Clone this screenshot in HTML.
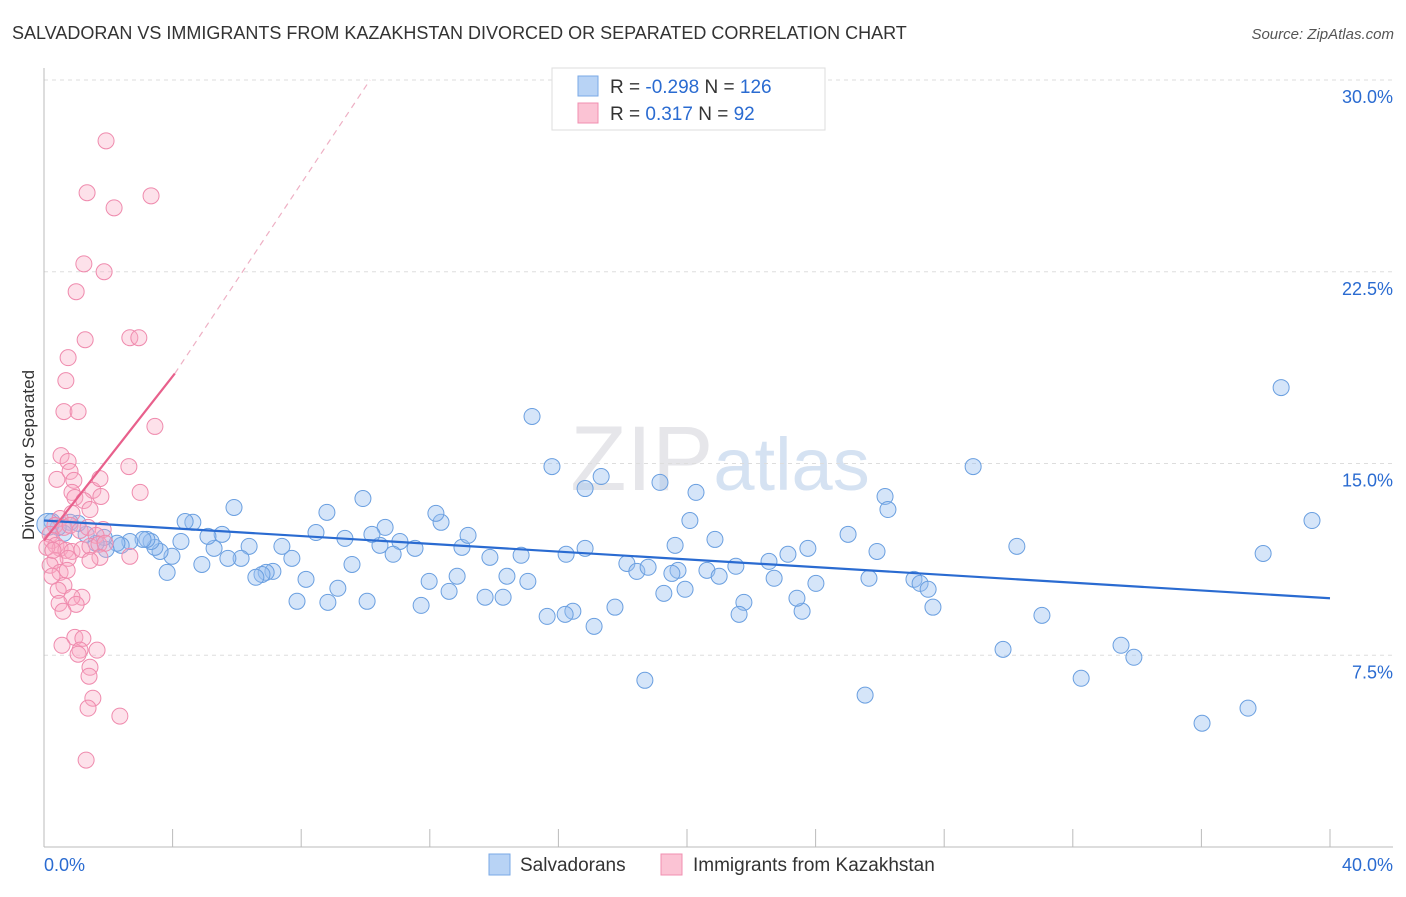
<!DOCTYPE html>
<html><head><meta charset="utf-8"><style>
body{margin:0;background:#fff;font-family:"Liberation Sans",sans-serif;}
svg text{font-family:"Liberation Sans",sans-serif;}
</style></head><body>
<svg id="chart" width="1406" height="892" xmlns="http://www.w3.org/2000/svg">
<text x="12" y="39" font-size="18" fill="#333">SALVADORAN VS IMMIGRANTS FROM KAZAKHSTAN DIVORCED OR SEPARATED CORRELATION CHART</text>
<text x="1394" y="39" font-size="15" fill="#555" text-anchor="end" font-style="italic">Source: ZipAtlas.com</text>
<text x="720" y="490" font-size="92" fill="#e6e6ea" text-anchor="middle" font-family="Liberation Serif">ZIP<tspan fill="#d5e2f2" font-family="Liberation Sans" font-size="74">atlas</tspan></text>
<g id="grid"></g>
<g id="axes"></g>
<g id="pts"></g>
<g id="trend"></g>
<text transform="translate(34,455) rotate(-90)" font-size="17" fill="#333" text-anchor="middle">Divorced or Separated</text>
<g>
<rect x="552" y="68" width="273" height="62" fill="#fff" stroke="#ddd"/>
<rect x="578" y="76" width="20" height="20" fill="#b8d3f5" stroke="#7aa8e6"/>
<rect x="578" y="103" width="20" height="20" fill="#fbc3d4" stroke="#f08fb0"/>
<text x="610" y="93" font-size="19" fill="#333">R = <tspan fill="#2a6bd1">-0.298</tspan>   N = <tspan fill="#2a6bd1">126</tspan></text>
<text x="610" y="120" font-size="19" fill="#333">R =  <tspan fill="#2a6bd1"> 0.317</tspan>   N =  <tspan fill="#2a6bd1"> 92</tspan></text>
</g>
<g>
<rect x="489" y="854" width="21" height="21" fill="#b8d3f5" stroke="#7aa8e6"/>
<text x="520" y="871" font-size="19" fill="#333">Salvadorans</text>
<rect x="661" y="854" width="21" height="21" fill="#fbc3d4" stroke="#f08fb0"/>
<text x="693" y="871" font-size="19" fill="#333">Immigrants from Kazakhstan</text>
</g>
</svg>
<script>
const xTicks=[0,4,8,12,16,20,24,28,32,36,40];
const yTicks=[7.5,15,22.5,30];
const yTickLabels=["7.5%","15.0%","22.5%","30.0%"];
const xEndLabels=["0.0%","40.0%"];
const blueX=[15.18,15.80,16.83,17.33,19.16,20.28,26.16,26.25,28.90,38.48,39.44,37.92,30.26,25.01,25.91,23.76,23.14,22.55,22.71,24.01,25.66,27.06,27.25,27.50,27.65,20.87,20.09,19.63,19.72,19.53,20.62,21.00,21.52,21.77,21.62,19.28,19.94,18.13,18.44,18.79,17.76,17.11,16.45,16.21,15.65,16.83,16.24,14.84,15.05,14.40,14.28,13.72,13.87,13.00,13.19,12.35,12.19,12.85,12.60,11.98,11.73,11.54,11.07,10.86,10.61,10.45,10.20,9.92,9.36,9.58,9.14,8.83,10.05,8.46,8.80,8.15,7.87,7.71,7.40,7.12,6.91,6.78,6.59,6.38,6.13,5.91,5.72,5.54,5.29,5.10,4.91,4.63,4.39,4.26,3.98,3.83,3.61,3.45,3.33,3.20,3.08,2.67,2.40,2.27,1.93,1.87,1.62,1.31,1.06,0.81,0.62,0.44,0.25,0.12,25.54,18.69,29.83,32.26,33.50,33.90,36.02,37.45,31.04,23.58,23.42];
const blueY=[16.84,14.88,14.02,14.49,14.26,13.87,13.71,13.20,14.88,17.97,12.77,11.48,11.76,12.23,11.56,11.68,11.45,11.17,10.51,10.31,10.51,10.47,10.31,10.08,9.38,12.03,12.77,11.80,10.82,10.70,10.82,10.59,10.98,9.57,9.10,9.92,10.08,11.09,10.78,10.94,9.38,8.63,9.22,9.10,9.02,11.68,11.45,11.41,10.39,10.59,9.77,9.77,11.33,11.72,12.19,12.70,13.05,10.59,10.00,10.39,9.45,11.68,11.95,11.45,12.50,11.80,12.23,13.63,12.07,11.05,10.12,9.57,9.61,12.30,13.09,10.47,9.61,11.29,11.76,10.78,10.74,10.66,10.55,11.76,11.29,13.28,11.29,12.23,11.68,12.15,11.05,12.70,12.73,11.95,11.37,10.74,11.56,11.72,11.95,12.03,12.03,11.95,11.80,11.88,11.64,12.11,11.88,12.23,12.66,12.70,12.27,12.50,12.73,12.62,5.94,6.52,7.73,6.60,7.89,7.42,4.84,5.43,9.06,9.22,9.73];
const pinkX=[1.93,1.34,2.18,3.33,1.24,1.87,1.00,1.28,2.67,2.95,0.75,0.68,0.62,1.06,3.45,0.53,0.75,0.40,0.81,0.93,0.87,0.96,1.52,1.74,2.64,2.99,1.77,1.24,1.43,0.87,0.50,0.34,0.62,0.81,1.12,1.37,1.84,1.62,0.19,0.25,0.37,0.50,0.68,0.87,1.18,1.43,1.71,1.90,2.67,1.74,1.43,0.75,0.34,0.19,0.50,0.62,0.44,0.72,1.18,0.87,0.47,1.00,0.59,0.96,1.21,1.12,1.06,1.65,1.43,1.40,1.52,1.37,2.36,1.31,0.25,0.09,0.28,0.56];
const pinkY=[27.62,25.59,25.00,25.47,22.81,22.50,21.72,19.84,19.92,19.92,19.14,18.24,17.03,17.03,16.45,15.31,15.08,14.38,14.69,14.34,13.87,13.67,13.95,14.41,14.88,13.87,13.71,13.55,13.20,13.05,12.85,12.58,12.50,12.58,12.38,12.50,12.42,12.19,12.23,11.99,11.80,11.68,11.60,11.56,11.64,11.76,11.84,11.88,11.37,11.33,11.21,11.29,11.21,11.02,10.74,10.23,10.04,10.82,9.77,9.77,9.53,9.49,9.22,8.20,8.16,7.70,7.54,7.70,7.03,6.68,5.82,5.43,5.12,3.40,10.59,11.72,11.60,7.89];
const blueTrend=[[0,12.77],[40,9.73]];
const pinkTrend=[[0,11.99],[4.07,18.52]];
const pinkTrendExt=[[4.07,18.52],[10.14,30]];
const NS="http://www.w3.org/2000/svg";
const X0=44,X1=1330,Y0=847,Y30=80;
const sx=v=>X0+(X1-X0)*v/40;
const sy=v=>Y0-(Y0-Y30)*v/30;
function mk(tag,attrs,parent){const e=document.createElementNS(NS,tag);for(const k in attrs)e.setAttribute(k,attrs[k]);parent.appendChild(e);return e;}
const grid=document.getElementById('grid'),axes=document.getElementById('axes'),pts=document.getElementById('pts'),trend=document.getElementById('trend');
yTicks.forEach((t,i)=>{
 const l=mk('line',{x1:X0,x2:1393,y1:sy(t),y2:sy(t),stroke:'#ddd','stroke-dasharray':'4,4'},grid);
 
 
 const tx=mk('text',{x:1393,y:sy(t)+23,'font-size':18,fill:'#2a6bd1','text-anchor':'end'},axes);
 tx.textContent=yTickLabels[i];
 
 
});
const ya=mk('line',{x1:X0,x2:X0,y1:68,y2:Y0,stroke:'#bbb'},axes);


const xa=mk('line',{x1:X0,x2:1393,y1:Y0,y2:Y0,stroke:'#bbb'},axes);


xTicks.forEach(t=>{
 const l=mk('line',{x1:sx(t),x2:sx(t),y1:829,y2:Y0,stroke:'#bbb'},axes);
 
 
});
[[0,'start',44],[40,'end',1393]].forEach((a,i)=>{
 const tx=mk('text',{x:a[2],y:871,'font-size':18,fill:'#2a6bd1','text-anchor':a[1]},axes);
 tx.textContent=xEndLabels[i];
 
 
});
blueX.forEach((x,i)=>{
 const c=mk('circle',{cx:sx(x),cy:sy(blueY[i]),r:(i===blueX.length-12?11:8),fill:'rgba(150,190,240,0.4)',stroke:'#6a9fe0','stroke-width':1},pts);
 
 
});
pinkX.forEach((x,i)=>{
 const c=mk('circle',{cx:sx(x),cy:sy(pinkY[i]),r:8,fill:'rgba(248,170,195,0.35)',stroke:'#ef8aad','stroke-width':1},pts);
 
 
});
const bl=mk('line',{x1:sx(blueTrend[0][0]),y1:sy(blueTrend[0][1]),x2:sx(blueTrend[1][0]),y2:sy(blueTrend[1][1]),stroke:'#2a6bd1','stroke-width':2.2},trend);


const pl=mk('line',{x1:sx(pinkTrend[0][0]),y1:sy(pinkTrend[0][1]),x2:sx(pinkTrend[1][0]),y2:sy(pinkTrend[1][1]),stroke:'#e8608c','stroke-width':2.2},trend);


const pe=mk('line',{x1:sx(pinkTrendExt[0][0]),y1:sy(pinkTrendExt[0][1]),x2:sx(pinkTrendExt[1][0]),y2:sy(pinkTrendExt[1][1]),stroke:'#eeb0c4','stroke-width':1.2,'stroke-dasharray':'6,5'},trend);


</script>
</body></html>
